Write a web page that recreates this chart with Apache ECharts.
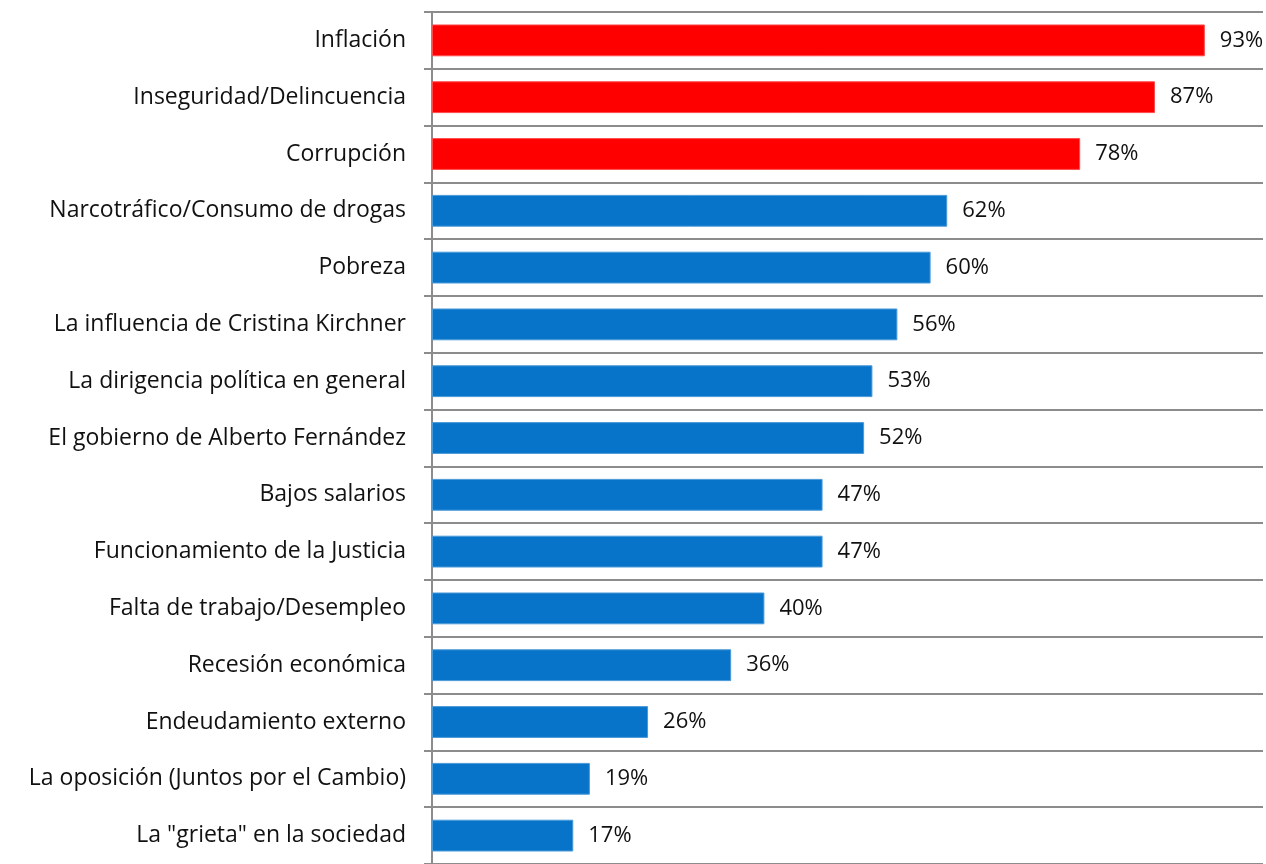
<!DOCTYPE html>
<html>
<head>
<meta charset="utf-8">
<script src="https://cdn.jsdelivr.net/npm/echarts@6/dist/echarts.min.js"></script>
<style>
  html, body { margin: 0; padding: 0; background: #fff; }
  #chart { width: 1266px; height: 864px; }
</style>
</head>
<body>
<div id="chart"></div>
<script>
// categories top to bottom
var categories = [
  'Inflación',
  'Inseguridad/Delincuencia',
  'Corrupción',
  'Narcotráfico/Consumo de drogas',
  'Pobreza',
  'La influencia de Cristina Kirchner',
  'La dirigencia política en general',
  'El gobierno de Alberto Fernández',
  'Bajos salarios',
  'Funcionamiento de la Justicia',
  'Falta de trabajo/Desempleo',
  'Recesión económica',
  'Endeudamiento externo',
  'La oposición (Juntos por el Cambio)',
  'La "grieta" en la sociedad'
];
var values = [93, 87, 78, 62, 60, 56, 53, 52, 47, 47, 40, 36, 26, 19, 17];
var highlighted = 3; // first three bars in red

var seriesData = values.map(function (v, i) {
  var red = i < highlighted;
  return {
    value: v,
    itemStyle: {
      color: red ? '#ff0000' : '#0874c9',
      borderColor: red ? '#ff4a4a' : '#4a9ad8',
      borderWidth: 1
    }
  };
});

var chart = echarts.init(document.getElementById('chart'));
chart.setOption({
  animation: false,
  grid: { left: 432, right: 3, top: 12, height: 855, containLabel: false },
  xAxis: {
    type: 'value',
    min: 0,
    max: 100,
    show: false
  },
  yAxis: {
    type: 'category',
    inverse: true,
    data: categories,
    axisLine: { show: true, lineStyle: { color: '#8c8c8c', width: 2 } },
    axisTick: { show: true, length: 8, lineStyle: { color: '#8c8c8c', width: 2 } },
    splitLine: { show: true, lineStyle: { color: '#8c8c8c', width: 2 } },
    axisLabel: {
      margin: 26,
      color: '#111',
      fontSize: 23,
      fontFamily: 'Open Sans'
    }
  },
  series: [{
    type: 'bar',
    data: seriesData,
    barWidth: '56%',
    label: {
      show: true,
      position: 'right',
      distance: 15,
      formatter: '{c}%',
      color: '#111',
      fontSize: 22,
      fontFamily: 'Open Sans'
    }
  }]
});
</script>
</body>
</html>
